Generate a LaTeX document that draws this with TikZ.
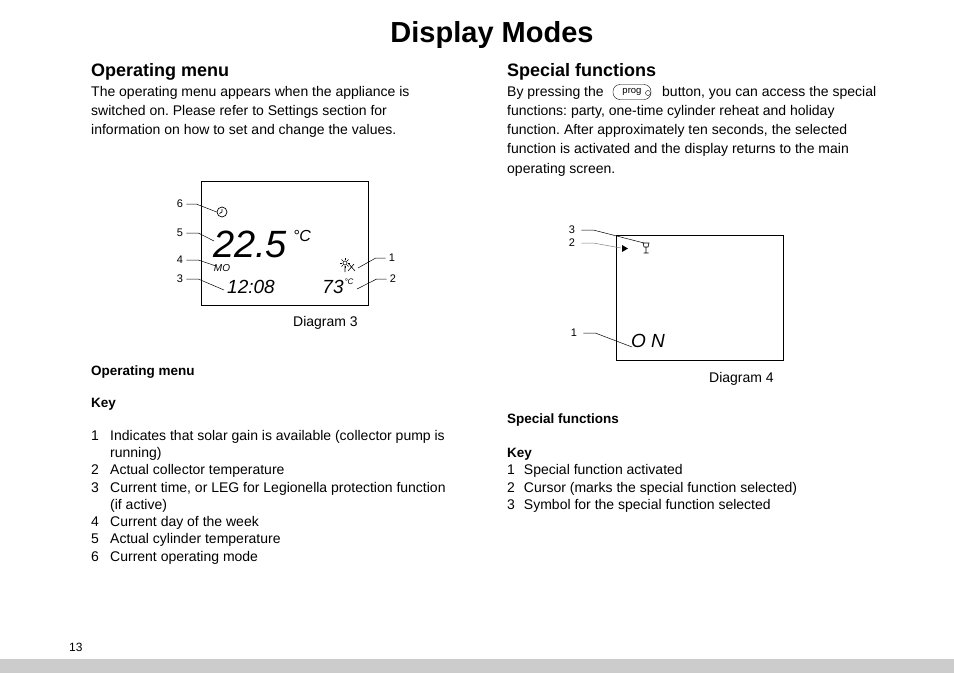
\documentclass[tikz,border=0pt]{standalone}
\usepackage{fontspec}
\setmainfont{Liberation Sans}
\frenchspacing
\begin{document}
\begin{tikzpicture}[x=1pt,y=-1pt,
  t/.style={anchor=base west,inner sep=0pt,font=\fontsize{14}{17}\selectfont},
  tb/.style={t,font=\fontsize{13.5}{16}\bfseries\selectfont},
  lab/.style={anchor=center,inner sep=0pt,font=\fontsize{11}{12}\selectfont},
  lcd/.style={inner sep=0pt,font=\itshape\selectfont},
  lead/.style={line width=0.5pt}]
\useasboundingbox (0,0) rectangle (954,673);
\fill[gray!40] (0,659) rectangle (954,673);
\node[anchor=base,inner sep=0pt,font=\fontsize{29}{32}\bfseries\selectfont] (title) at (492,42) {Display Modes};
% left column
\node[t,font=\fontsize{18}{20}\bfseries\selectfont] (h1) at (91,76) {Operating menu};
\node[t] (l1) at (91,96) {The operating menu appears when the appliance is};
\node[t] (l2) at (91,115) {switched on. Please refer to Settings section for};
\node[t] (l3) at (91,134) {information on how to set and change the values.};
% diagram 3
\draw[line width=0.8pt] (201,181) rectangle (368,305);
\node[t] (d3) at (293,326) {Diagram 3};
\node[lab] (n6) at (180,204) {6};
\node[lab] (n5) at (180,233) {5};
\node[lab] (n4) at (180,260) {4};
\node[lab] (n3) at (180,279) {3};
\node[lab] (n1) at (392,258) {1};
\node[lab] (n2) at (393,279) {2};
\node[circle,draw,line width=0.7pt,minimum size=10pt,inner sep=0pt] (clk) at (222,212) {};
\draw[line width=0.7pt] (clk.center) -- ++(0,-3) (clk.center) -- ++(-2.5,1.5);
\node[lcd,font=\fontsize{38}{38}\itshape\selectfont] (big) at (250,244) {22.5};
\node[lcd,font=\fontsize{16}{16}\itshape\selectfont] (deg) at (302,236) {°C};
\node[lcd,font=\fontsize{10}{10}\itshape\selectfont] (mo) at (222,268) {MO};
\node[lcd,font=\fontsize{19}{19}\itshape\selectfont] (time) at (251,287) {12:08};
\node[lcd,font=\fontsize{19}{19}\itshape\selectfont] (tmp) at (333,287) {73};
\node[lcd,font=\fontsize{8}{8}\itshape\selectfont] (tc) at (349,282) {°C};
\node[circle,draw,line width=0.6pt,minimum size=4pt,inner sep=0pt] (sun) at (345,263) {};
\foreach \a in {0,45,...,315}{\draw[line width=0.5pt] (sun.center)++(\a:3) -- ++(\a:2);}
\draw[line width=0.6pt] (345,266) -- (345,272) (348,263) -- (355,271) (348,271) -- (354,264);
\draw[lead] (n6.east)++(3,0) -- ++(10,0) -- (clk.west);
\draw[lead] (n5.east)++(3,0) -- ++(12,0) -- (214,241);
\draw[lead] (n4.east)++(3,0) -- ++(12,0) -- (216,266);
\draw[lead] (n3.east)++(3,0) -- ++(12,0) -- (224,290);
\draw[lead] (n1.west)++(-3,0) -- ++(-10,0) -- (358,268);
\draw[lead] (n2.west)++(-3,0) -- ++(-10,0) -- (357,289);
% left key
\node[tb] (k1h) at (91,375) {Operating menu};
\node[tb] (k1k) at (91,407) {Key};
\foreach \n/\y/\s in {a/440/Indicates that solar gain is available (collector pump is,
  b/474/Actual collector temperature,
  c/492/{Current time, or LEG for Legionella protection function},
  d/526/Current day of the week,
  e/543/Actual cylinder temperature,
  f/561/Current operating mode}{\node[t] (L\n) at (110,\y) {\s};}
\foreach \n/\y/\s in {a/440/1,b/474/2,c/492/3,d/526/4,e/543/5,f/561/6}{\node[t] (N\n) at (91,\y) {\s};}
\node[t] (La2) at (110,457) {running)};
\node[t] (Lc2) at (110,509) {(if active)};
% right column
\node[t,font=\fontsize{18}{20}\bfseries\selectfont] (h2) at (507,76) {Special functions};
\node[t] (r1a) at (507,96) {By pressing the};
\node[draw,rounded corners=7pt,minimum width=38pt,minimum height=15pt,inner sep=0pt,font=\fontsize{9.5}{9.5}\selectfont] (prog) at (632,92) {prog\hspace{6pt}};
\node[circle,draw,minimum size=5pt,inner sep=0pt] (pc) at (648,93) {};
\node[t] (r1b) at (662,96) {button, you can access the special};
\node[t] (r2) at (507,115) {functions: party, one-time cylinder reheat and holiday};
\node[t] (r3) at (507,134) {function. After approximately ten seconds, the selected};
\node[t] (r4) at (507,153) {function is activated and the display returns to the main};
\node[t] (r5) at (507,173) {operating screen.};
% diagram 4
\draw[line width=0.8pt] (616,235) rectangle (783,360);
\node[t] (d4) at (709,382) {Diagram 4};
\node[lab] (m3) at (572,230) {3};
\node[lab] (m2) at (572,243) {2};
\node[lab] (m1) at (574,333) {1};
\fill (622,245) -- (628,248.5) -- (622,252) -- cycle;
\coordinate (cur) at (621,248);
\draw[line width=0.6pt] (643,243) -- (649,243) -- (648,247) -- (644,247) -- cycle (646,247) -- (646,253) (643.5,253) -- (648.5,253);
\coordinate (glass) at (644,243);
\node[lcd,font=\fontsize{19}{19}\itshape\selectfont] (on) at (648,341) {O N};
\draw[lead] (m3.east)++(6,0) -- ++(12,0) -- (glass);
\draw[lead,gray] (m2.east)++(6,0) -- ++(12,0) -- (cur);
\draw[lead] (m1.east)++(6,0) -- ++(12,0) -- (632,347);
% right key
\node[tb] (k2h) at (507,423) {Special functions};
\node[tb] (k2k) at (507,457) {Key};
\node[t] (R1) at (507,474) {1\hspace{9pt}Special function activated};
\node[t] (R2) at (507,492) {2\hspace{9pt}Cursor (marks the special function selected)};
\node[t] (R3) at (507,509) {3\hspace{9pt}Symbol for the special function selected};
\node[t,font=\fontsize{12}{14}\selectfont] (pg) at (69,651) {13};
\end{tikzpicture}
\end{document}
